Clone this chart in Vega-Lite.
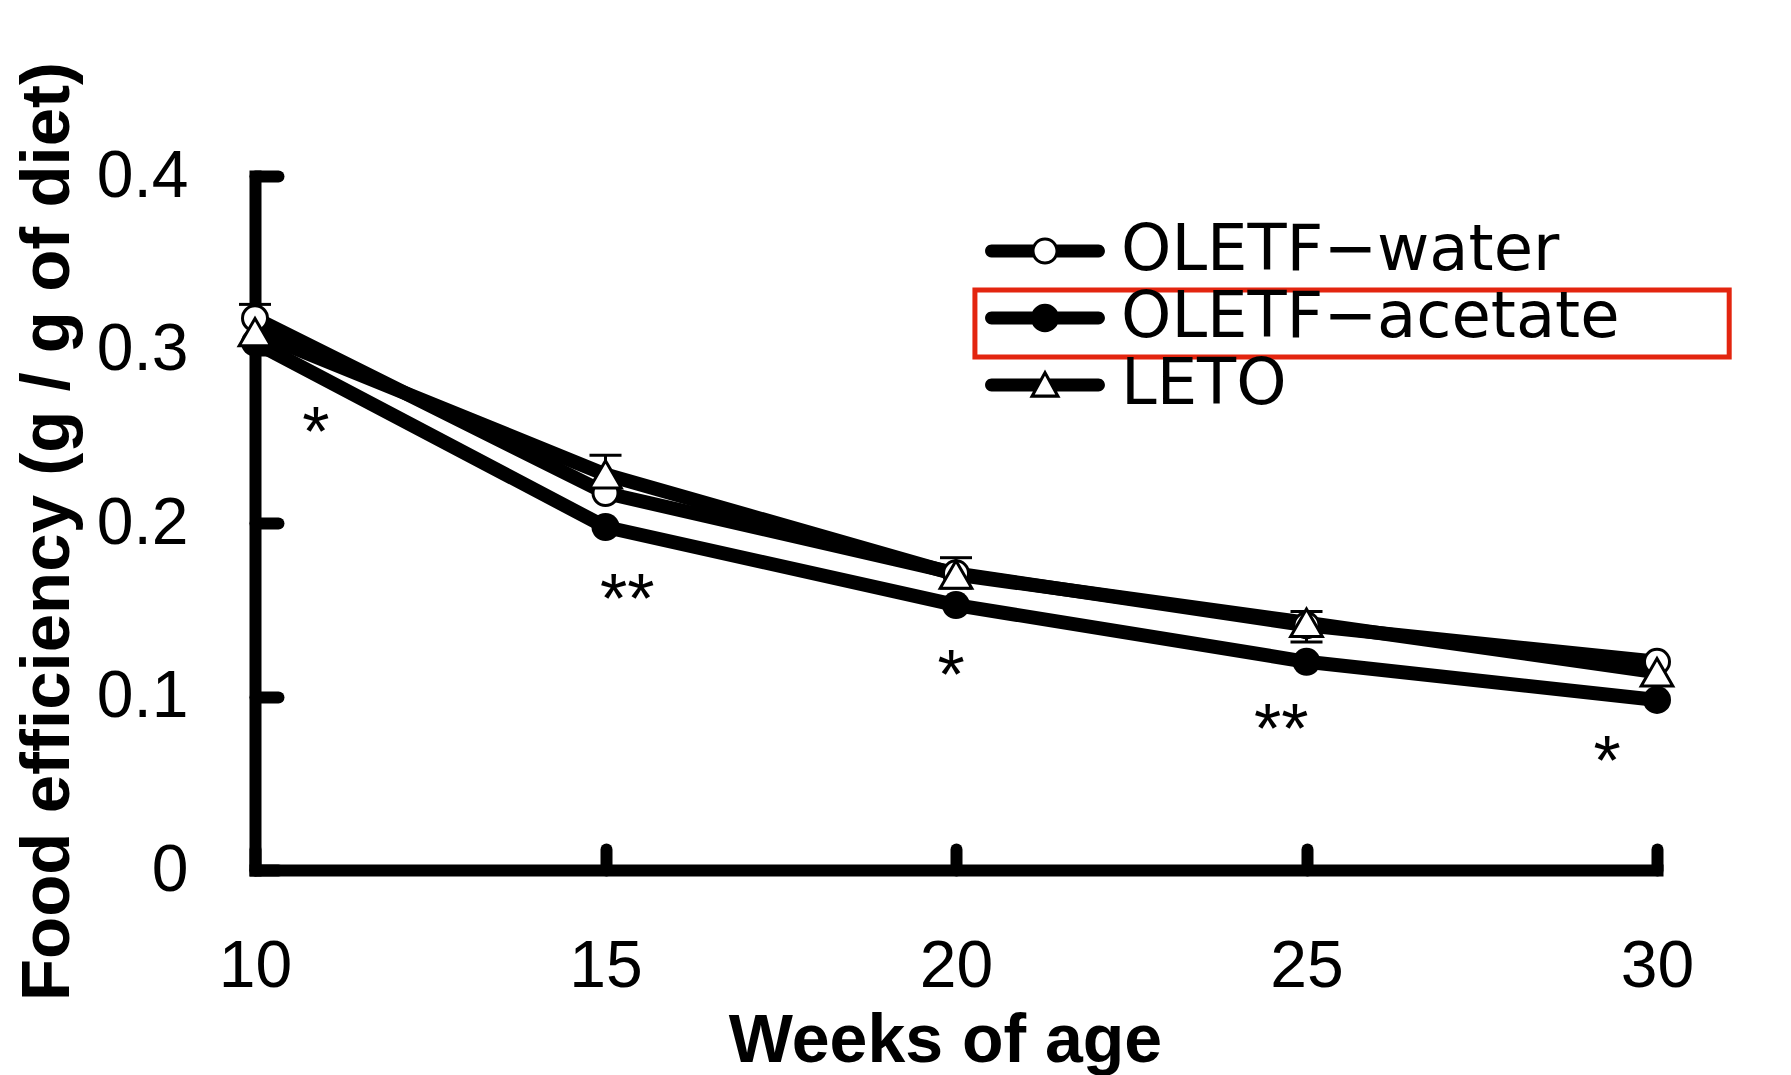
{
  "$schema": "https://vega.github.io/schema/vega-lite/v6.json",
  "width": 1402,
  "height": 694,
  "autosize": {"type": "none"},
  "padding": {"left": 255, "top": 176, "right": 134, "bottom": 205},
  "background": "white",
  "config": {"view": {"stroke": null}, "font": "Liberation Sans"},
  "datasets": {
    "pts": [
      {"group": "OLETF−water", "week": 10, "value": 0.318},
      {"group": "OLETF−water", "week": 15, "value": 0.2173},
      {"group": "OLETF−water", "week": 20, "value": 0.171},
      {"group": "OLETF−water", "week": 25, "value": 0.141},
      {"group": "OLETF−water", "week": 30, "value": 0.120},
      {"group": "OLETF−acetate", "week": 10, "value": 0.304},
      {"group": "OLETF−acetate", "week": 15, "value": 0.1977},
      {"group": "OLETF−acetate", "week": 20, "value": 0.1527},
      {"group": "OLETF−acetate", "week": 25, "value": 0.120},
      {"group": "OLETF−acetate", "week": 30, "value": 0.098},
      {"group": "LETO", "week": 10, "value": 0.310},
      {"group": "LETO", "week": 15, "value": 0.228},
      {"group": "LETO", "week": 20, "value": 0.1703},
      {"group": "LETO", "week": 25, "value": 0.1425},
      {"group": "LETO", "week": 30, "value": 0.114}
    ],
    "err": [
      {"group": "OLETF−water", "week": 10, "lo": 0.318, "hi": 0.326, "both": false},
      {"group": "LETO", "week": 15, "lo": 0.220, "hi": 0.239, "both": true},
      {"group": "LETO", "week": 20, "lo": 0.1625, "hi": 0.180, "both": true},
      {"group": "LETO", "week": 25, "lo": 0.1314, "hi": 0.149, "both": true}
    ],
    "sig": [
      {"week": 10.87, "value": 0.2565, "label": "*"},
      {"week": 15.31, "value": 0.1602, "label": "**"},
      {"week": 19.93, "value": 0.1164, "label": "*"},
      {"week": 24.64, "value": 0.0853, "label": "**"},
      {"week": 29.29, "value": 0.0669, "label": "*"}
    ],
    "box": [
      {"wk1": 20.27, "wk2": 31.03, "v1": 0.2957, "v2": 0.3343}
    ]
  },
  "layer": [
    {
      "data": {"name": "pts"},
      "mark": {"type": "line", "color": "black", "strokeWidth": 14, "strokeJoin": "round"},
      "encoding": {
        "x": {"field": "week", "type": "quantitative", "title": "Weeks of age", "scale": {"domain": [10, 30], "nice": false, "zero": false},
          "axis": {"title": "Weeks of age", "values": [10, 15, 20, 25, 30], "format": "d", "grid": false,
            "domainColor": "black", "domainWidth": 12, "domainCap": "square",
            "tickColor": "black", "tickWidth": 12, "tickCap": "round", "tickSize": -21,
            "labelFont": "Liberation Sans", "labelFontSize": 66, "labelColor": "black", "labelPadding": 85,
            "labelFlush": false, "labelOverlap": false,
            "titleFont": "Liberation Sans", "titleFontSize": 68, "titleFontWeight": "bold", "titleColor": "black",
            "titleX": 690, "titleY": 191, "titleBaseline": "alphabetic", "titleAlign": "center"}},
        "y": {"field": "value", "type": "quantitative", "title": "Food efficiency (g / g of diet)", "scale": {"domain": [0, 0.4], "nice": false, "zero": false},
          "axis": {"title": "Food efficiency (g / g of diet)", "values": [0, 0.1, 0.2, 0.3, 0.4], "format": ".1~f", "grid": false,
            "domainColor": "black", "domainWidth": 12, "domainCap": "square",
            "tickColor": "black", "tickWidth": 12, "tickCap": "round", "tickSize": -23,
            "labelFont": "Liberation Sans", "labelFontSize": 66, "labelColor": "black", "labelPadding": 90,
            "labelFlush": false, "labelOverlap": false,
            "titleFont": "Liberation Sans", "titleFontSize": 69, "titleFontWeight": "bold", "titleColor": "black",
            "titleAngle": 270, "titleX": -187, "titleY": 355, "titleBaseline": "alphabetic", "titleAlign": "center"}},
        "detail": {"field": "group"},
        "order": {"field": "week"}
      }
    },
    {
      "data": {"name": "err"},
      "mark": {"type": "rule", "color": "black", "strokeWidth": 3},
      "encoding": {
        "x": {"field": "week", "type": "quantitative", "title": "Weeks of age", "scale": {"domain": [10, 30], "nice": false, "zero": false}},
        "y": {"field": "lo", "type": "quantitative", "title": "Food efficiency (g / g of diet)", "scale": {"domain": [0, 0.4], "nice": false, "zero": false}},
        "y2": {"field": "hi"}
      }
    },
    {
      "data": {"name": "err"},
      "mark": {"type": "tick", "orient": "horizontal", "color": "black", "thickness": 3, "size": 32, "opacity": 1},
      "encoding": {
        "x": {"field": "week", "type": "quantitative", "title": "Weeks of age", "scale": {"domain": [10, 30], "nice": false, "zero": false}},
        "y": {"field": "hi", "type": "quantitative", "title": "Food efficiency (g / g of diet)", "scale": {"domain": [0, 0.4], "nice": false, "zero": false}}
      }
    },
    {
      "data": {"name": "err"},
      "transform": [{"filter": "datum.both"}],
      "mark": {"type": "tick", "orient": "horizontal", "color": "black", "thickness": 3, "size": 32, "opacity": 1},
      "encoding": {
        "x": {"field": "week", "type": "quantitative", "title": "Weeks of age", "scale": {"domain": [10, 30], "nice": false, "zero": false}},
        "y": {"field": "lo", "type": "quantitative", "title": "Food efficiency (g / g of diet)", "scale": {"domain": [0, 0.4], "nice": false, "zero": false}}
      }
    },
    {
      "data": {"name": "pts"},
      "transform": [{"filter": "datum.group === 'OLETF−water'"}],
      "mark": {"type": "point", "shape": "circle", "filled": true, "fill": "white", "stroke": "black", "strokeWidth": 3, "size": 625, "opacity": 1},
      "encoding": {
        "x": {"field": "week", "type": "quantitative", "title": "Weeks of age", "scale": {"domain": [10, 30], "nice": false, "zero": false}},
        "y": {"field": "value", "type": "quantitative", "title": "Food efficiency (g / g of diet)", "scale": {"domain": [0, 0.4], "nice": false, "zero": false}}
      }
    },
    {
      "data": {"name": "pts"},
      "transform": [{"filter": "datum.group === 'OLETF−acetate'"}],
      "mark": {"type": "point", "shape": "circle", "filled": true, "fill": "black", "strokeWidth": 0, "size": 784, "opacity": 1},
      "encoding": {
        "x": {"field": "week", "type": "quantitative", "title": "Weeks of age", "scale": {"domain": [10, 30], "nice": false, "zero": false}},
        "y": {"field": "value", "type": "quantitative", "title": "Food efficiency (g / g of diet)", "scale": {"domain": [0, 0.4], "nice": false, "zero": false}}
      }
    },
    {
      "data": {"name": "pts"},
      "transform": [{"filter": "datum.group === 'LETO'"}],
      "mark": {"type": "point", "shape": "triangle-up", "filled": true, "fill": "white", "stroke": "black", "strokeWidth": 3, "size": 1000, "opacity": 1},
      "encoding": {
        "x": {"field": "week", "type": "quantitative", "title": "Weeks of age", "scale": {"domain": [10, 30], "nice": false, "zero": false}},
        "y": {"field": "value", "type": "quantitative", "title": "Food efficiency (g / g of diet)", "scale": {"domain": [0, 0.4], "nice": false, "zero": false}}
      }
    },
    {
      "data": {"name": "pts"},
      "mark": {"type": "point", "filled": true, "color": "black", "opacity": 0, "size": 729},
      "encoding": {
        "x": {"field": "week", "type": "quantitative", "title": "Weeks of age", "scale": {"domain": [10, 30], "nice": false, "zero": false}},
        "y": {"field": "value", "type": "quantitative", "title": "Food efficiency (g / g of diet)", "scale": {"domain": [0, 0.4], "nice": false, "zero": false}},
        "shape": {"field": "group", "type": "nominal",
          "scale": {"domain": ["OLETF−water", "OLETF−acetate", "LETO"],
            "range": [
              "M-3.96,0.48A0.48,0.48 0 0 1 -3.96,-0.48H-0.85V0.48ZM0.85,-0.48H3.96A0.48,0.48 0 0 1 3.96,0.48H0.85ZM1,0A1,1 0 1 1 -1,0A1,1 0 1 1 1,0ZM0.778,0A0.778,0.778 0 1 0 -0.778,0A0.778,0.778 0 1 0 0.778,0Z",
              "M-3.96,0.48A0.48,0.48 0 0 1 -3.96,-0.48H-0.85V0.48ZM0.85,-0.48H3.96A0.48,0.48 0 0 1 3.96,0.48H0.85ZM1.05,0A1.05,1.05 0 1 1 -1.05,0A1.05,1.05 0 1 1 1.05,0Z",
              "M-3.96,0.48A0.48,0.48 0 0 1 -3.96,-0.48L-0.28,-0.48L-0.77,0.48ZM0.28,-0.48L3.96,-0.48A0.48,0.48 0 0 1 3.96,0.48L0.77,0.48ZM0,-1.15L1.15,0.95L-1.15,0.95ZM0,-0.68L-0.76,0.71L0.76,0.71Z"
            ]},
          "legend": {"title": null, "orient": "none", "legendX": 758, "legendY": 43, "padding": 0,
            "labelFont": "DejaVu Sans", "labelFontSize": 64, "labelColor": "black", "labelOffset": 44, "labelLimit": 0,
            "rowPadding": 3, "symbolSize": 729, "symbolFillColor": "black", "symbolStrokeColor": "black",
            "symbolStrokeWidth": 0, "symbolOpacity": 1}}
      }
    },
    {
      "data": {"name": "sig"},
      "mark": {"type": "text", "font": "Liberation Sans", "fontSize": 70, "color": "black", "align": "center", "baseline": "middle", "dy": 10},
      "encoding": {
        "x": {"field": "week", "type": "quantitative", "title": "Weeks of age", "scale": {"domain": [10, 30], "nice": false, "zero": false}},
        "y": {"field": "value", "type": "quantitative", "title": "Food efficiency (g / g of diet)", "scale": {"domain": [0, 0.4], "nice": false, "zero": false}},
        "text": {"field": "label"}
      }
    },
    {
      "data": {"name": "box"},
      "mark": {"type": "rect", "fill": null, "stroke": "#e3250f", "strokeWidth": 5},
      "encoding": {
        "x": {"field": "wk1", "type": "quantitative", "title": "Weeks of age", "scale": {"domain": [10, 30], "nice": false, "zero": false}},
        "x2": {"field": "wk2"},
        "y": {"field": "v1", "type": "quantitative", "title": "Food efficiency (g / g of diet)", "scale": {"domain": [0, 0.4], "nice": false, "zero": false}},
        "y2": {"field": "v2"}
      }
    }
  ]
}
